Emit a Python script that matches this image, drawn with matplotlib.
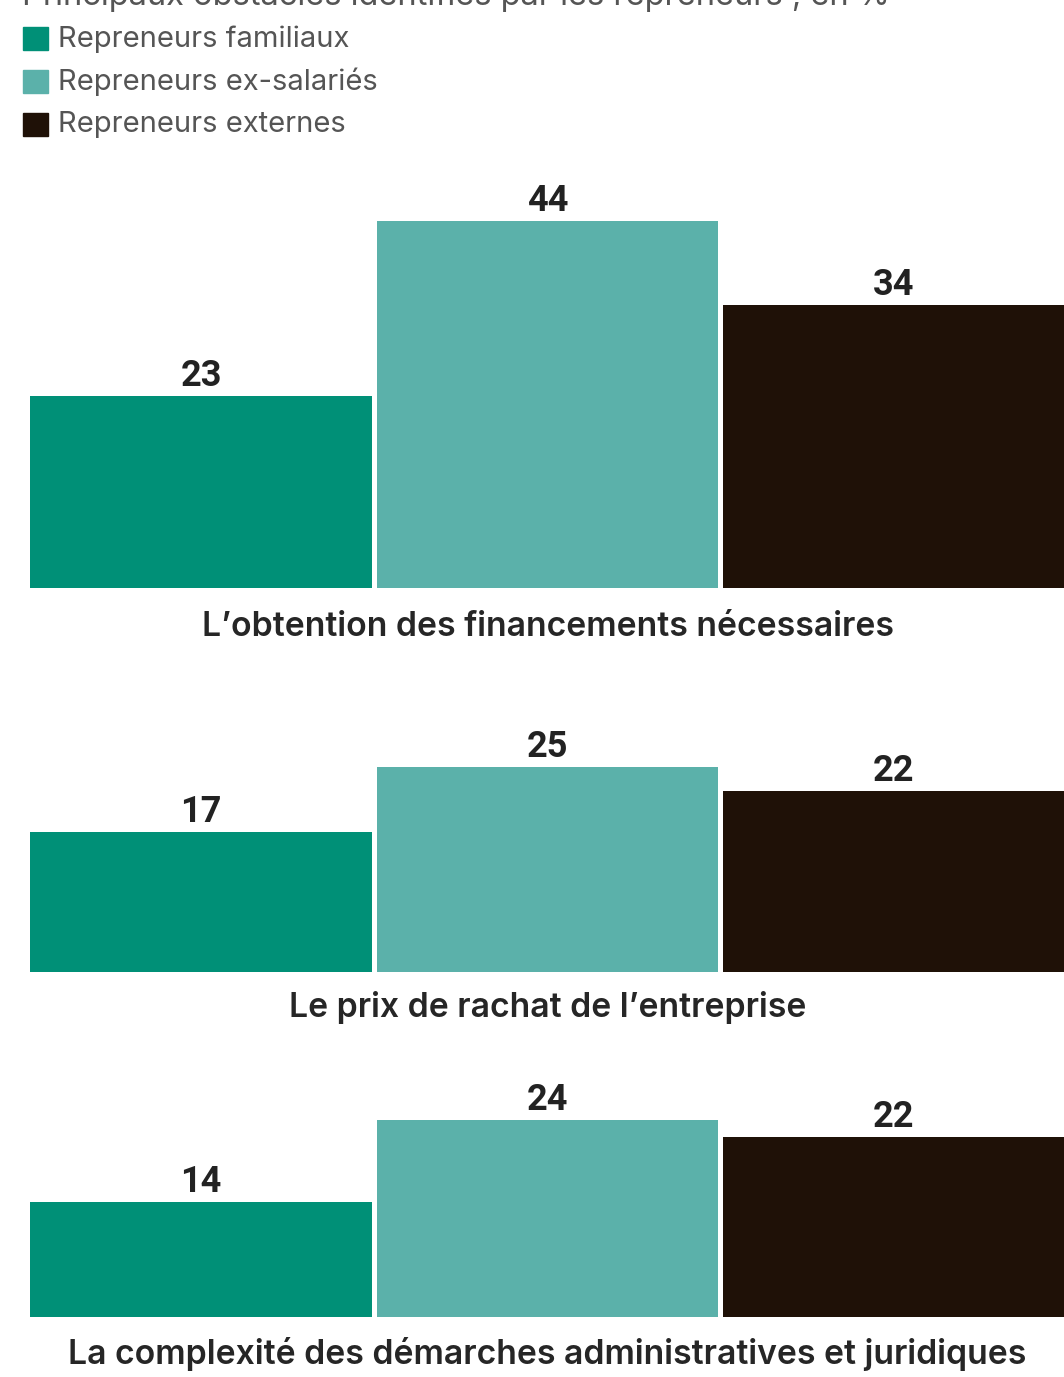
import matplotlib
matplotlib.use("Agg")
import matplotlib.pyplot as plt
from matplotlib.patches import Rectangle

plt.rcParams['font.family'] = ['Inter', 'DejaVu Sans']

# data
title = "Principaux obstacles identifiés par les repreneurs , en %"
series = ["Repreneurs familiaux", "Repreneurs ex-salariés", "Repreneurs externes"]
colors = ["#009077", "#5bb1aa", "#1f1107"]
obstacles = [
    "L\u2019obtention des financements nécessaires",
    "Le prix de rachat de l\u2019entreprise",
    "La complexité des démarches administratives et juridiques",
]
familiaux = [23, 17, 14]
ex_salaries = [44, 25, 24]
externes = [34, 22, 22]

W, H = 1064, 1377
fig = plt.figure(figsize=(W / 100, H / 100), dpi=100)
fig.patch.set_facecolor("white")


def rect(left, top, right, bottom):
    return [left / W, 1 - bottom / H, (right - left) / W, (bottom - top) / H]


# title (cut off at top in the source)
fig.text(22 / W, 1 - 5 / H, title, fontsize=23.5, color="#555555",
         ha="left", va="baseline")

# legend
leg_y = [39, 82, 125]
for name, col, y in zip(series, colors, leg_y):
    fig.patches.append(Rectangle((23 / W, 1 - (y + 11) / H), 25 / W, 23 / H,
                                 transform=fig.transFigure, color=col))
    fig.text(58 / W, 1 - y / H, name, fontsize=21, color="#555555",
             ha="left", va="center")

# one axes per obstacle: (baseline px, top px, px per unit, label offset px)
layout = [(588, 150, 8.33, 39), (972, 700, 8.22, 35), (1317, 1060, 8.2, 37)]

for i, (base, top, scale, off) in enumerate(layout):
    ax = fig.add_axes(rect(27.75, top, 1067.25, base))
    vals = [familiaux[i], ex_salaries[i], externes[i]]
    bars = ax.bar(range(3), vals, width=0.987, color=colors)
    ax.set_xlim(-0.5, 2.5)
    ax.set_ylim(0, (base - top) / scale)
    ax.axis("off")
    for b, v in zip(bars, vals):
        ax.annotate(str(v), (b.get_x() + b.get_width() / 2, v),
                    xytext=(0, 10), textcoords="offset pixels",
                    ha="center", va="baseline", fontsize=26,
                    fontweight="bold", color="#222222",
                    family=["Roboto", "DejaVu Sans"])
    ax.annotate(obstacles[i], (0.5, 0), xycoords=ax.transAxes,
                xytext=(0, -off), textcoords="offset pixels",
                ha="center", va="center", fontsize=24.3,
                fontweight="semibold", color="#262626")

fig.savefig("out.png", dpi=100, facecolor="white")
